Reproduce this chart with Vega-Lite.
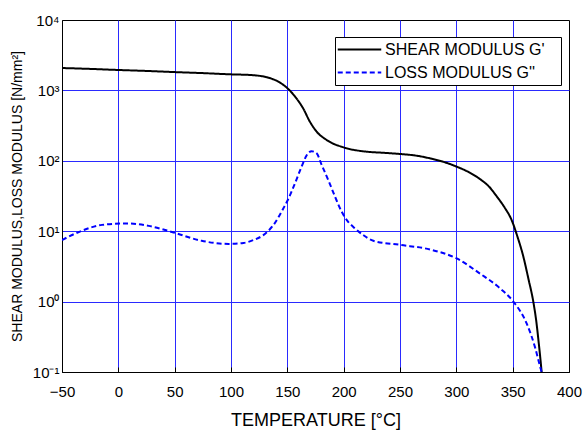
{
  "$schema": "https://vega.github.io/schema/vega-lite/v6.json",
  "autosize": {"type": "none"},
  "padding": {"left": 62, "top": 20, "right": 14, "bottom": 59},
  "width": 507,
  "height": 352,
  "config": {
    "font": "Liberation Sans",
    "view": {"stroke": "black", "strokeWidth": 1}
  },
  "datasets": {
    "shear": [
      {"t": -50, "v": 2080}, {"t": -25, "v": 2020}, {"t": 0, "v": 1950}, {"t": 25, "v": 1890},
      {"t": 50, "v": 1820}, {"t": 75, "v": 1760}, {"t": 100, "v": 1690}, {"t": 117, "v": 1655},
      {"t": 132, "v": 1535}, {"t": 143.5, "v": 1290}, {"t": 151, "v": 1040}, {"t": 158, "v": 773},
      {"t": 164, "v": 557}, {"t": 170, "v": 360}, {"t": 176, "v": 260}, {"t": 185, "v": 197},
      {"t": 200, "v": 155}, {"t": 220, "v": 135}, {"t": 235, "v": 130}, {"t": 250, "v": 125},
      {"t": 265, "v": 118}, {"t": 277, "v": 108}, {"t": 290, "v": 95}, {"t": 300, "v": 83},
      {"t": 311, "v": 69}, {"t": 321, "v": 55}, {"t": 329, "v": 43}, {"t": 336, "v": 31},
      {"t": 343, "v": 21.5}, {"t": 349, "v": 14.5}, {"t": 354, "v": 8.6}, {"t": 359.4, "v": 4.4},
      {"t": 364, "v": 2.1}, {"t": 368.3, "v": 1.0}, {"t": 371, "v": 0.52}, {"t": 372.8, "v": 0.29},
      {"t": 374.5, "v": 0.16}, {"t": 375.7, "v": 0.1}
    ],
    "loss": [
      {"t": -50, "v": 7.5}, {"t": -32, "v": 10.2}, {"t": -14.5, "v": 12.3}, {"t": 7.7, "v": 12.9},
      {"t": 27, "v": 11.9}, {"t": 49, "v": 9.6}, {"t": 74, "v": 7.3}, {"t": 98, "v": 6.6},
      {"t": 111, "v": 6.8}, {"t": 120, "v": 7.5}, {"t": 128.7, "v": 8.8}, {"t": 137.6, "v": 12.2},
      {"t": 146.4, "v": 21}, {"t": 151, "v": 29}, {"t": 156.8, "v": 48}, {"t": 162.7, "v": 83},
      {"t": 167.2, "v": 120}, {"t": 171.6, "v": 137}, {"t": 176, "v": 128}, {"t": 180.5, "v": 87},
      {"t": 186.4, "v": 53}, {"t": 192.3, "v": 31}, {"t": 198.2, "v": 19}, {"t": 204, "v": 13.6},
      {"t": 208.6, "v": 11.5}, {"t": 217.4, "v": 8.8}, {"t": 226.3, "v": 7.3}, {"t": 250, "v": 6.4},
      {"t": 276.6, "v": 5.5}, {"t": 300.3, "v": 4.1}, {"t": 321, "v": 2.5}, {"t": 338.7, "v": 1.55},
      {"t": 350.6, "v": 1.0}, {"t": 362.4, "v": 0.49}, {"t": 370, "v": 0.22}, {"t": 374.3, "v": 0.12},
      {"t": 375.7, "v": 0.1}
    ]
  },
  "layer": [
    {
      "data": {"name": "shear"},
      "transform": [{"calculate": "'SHEAR MODULUS G\\''", "as": "series"}],
      "mark": {"type": "line", "interpolate": "monotone", "strokeWidth": 2, "clip": true},
      "encoding": {
        "x": {
          "field": "t", "type": "quantitative",
          "scale": {"domain": [-50, 400], "nice": false, "zero": false},
          "axis": {
            "values": [-50, -25, 0, 25, 50, 75, 100, 125, 150, 175, 200, 225, 250, 275, 300, 325, 350, 375, 400],
            "labelExpr": "datum.value % 50 === 0 ? datum.label : ''",
            "labelFlush": false,
            "title": "TEMPERATURE [°C]",
            "titleFontSize": 18, "titleFontWeight": "normal", "titleColor": "black", "titlePadding": 12,
            "labelFontSize": 15, "labelColor": "black", "labelPadding": 17,
            "tickSize": -5, "tickColor": "black", "domainColor": "black",
            "grid": true, "gridColor": "#2a2aff", "gridWidth": 1,
            "gridOpacity": {"condition": {"test": "datum.value % 50 !== 0 || datum.value === -50 || datum.value === 400", "value": 0}, "value": 1}
          }
        },
        "y": {
          "field": "v", "type": "quantitative",
          "scale": {"type": "log", "domain": [0.1, 10000], "nice": false},
          "axis": {
            "values": [0.1, 1, 10, 100, 1000, 10000],
            "labelExpr": "datum.value < 0.5 ? '10⁻¹' : datum.value < 5 ? '10⁰' : datum.value < 50 ? '10¹' : datum.value < 500 ? '10²' : datum.value < 5000 ? '10³' : '10⁴'",
            "labelFlush": false,
            "title": "SHEAR MODULUS,LOSS MODULUS [N/mm²]",
            "titleFontSize": 14, "titleFontWeight": "normal", "titleColor": "black", "titlePadding": 8,
            "labelFontSize": 15, "labelColor": "black", "labelPadding": 3,
            "ticks": false, "domainColor": "black",
            "grid": true, "gridColor": "#2a2aff", "gridWidth": 1,
            "gridOpacity": {"condition": {"test": "datum.value < 0.5 || datum.value > 5000", "value": 0}, "value": 1}
          }
        },
        "color": {
          "field": "series", "type": "nominal",
          "scale": {"domain": ["SHEAR MODULUS G'", "LOSS MODULUS G''"], "range": ["black", "blue"]},
          "legend": {
            "title": null, "orient": "none", "legendX": 273, "legendY": 17,
            "strokeColor": "black", "fillColor": "white", "padding": 4,
            "symbolType": "M-2.9,0H2.9", "symbolSize": 225, "symbolStrokeWidth": 2, "symbolOffset": 12,
            "labelFontSize": 16, "labelColor": "black", "labelOffset": 17, "rowPadding": 6,
            "labelLimit": 400,
            "labelExpr": "datum.label + '\u2800'"
          }
        },
        "strokeDash": {
          "field": "series", "type": "nominal",
          "scale": {"domain": ["SHEAR MODULUS G'", "LOSS MODULUS G''"], "range": [[1, 0], [5, 3]]},
          "legend": {
            "title": null, "orient": "none", "legendX": 273, "legendY": 17,
            "strokeColor": "black", "fillColor": "white", "padding": 4,
            "symbolType": "M-2.9,0H2.9", "symbolSize": 225, "symbolStrokeWidth": 2, "symbolOffset": 12,
            "labelFontSize": 16, "labelColor": "black", "labelOffset": 17, "rowPadding": 6,
            "labelLimit": 400,
            "labelExpr": "datum.label + '\u2800'"
          }
        }
      }
    },
    {
      "data": {"name": "loss"},
      "transform": [{"calculate": "'LOSS MODULUS G\\'\\''", "as": "series"}],
      "mark": {"type": "line", "interpolate": "monotone", "strokeWidth": 2, "clip": true},
      "encoding": {
        "x": {"field": "t", "type": "quantitative"},
        "y": {"field": "v", "type": "quantitative"},
        "color": {"field": "series", "type": "nominal"},
        "strokeDash": {"field": "series", "type": "nominal"}
      }
    }
  ]
}
